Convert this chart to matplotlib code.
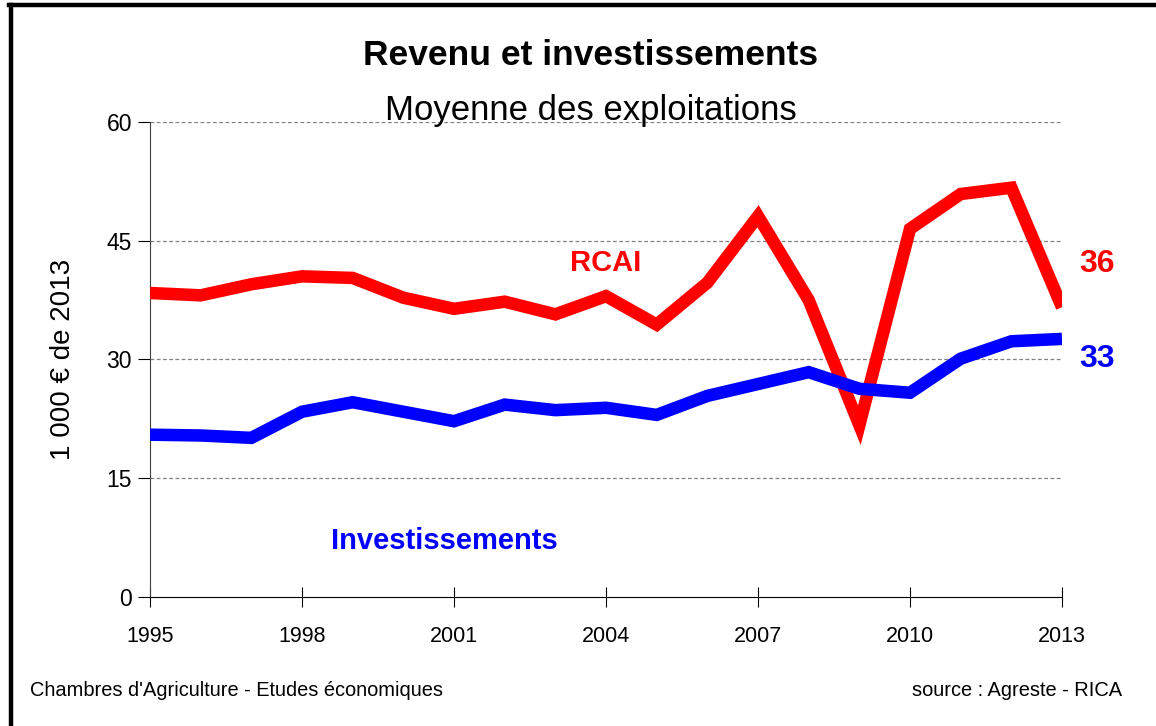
import matplotlib.pyplot as plt
from matplotlib.lines import Line2D

plt.rcParams['font.family'] = ['Liberation Sans Narrow', 'Liberation Sans', 'DejaVu Sans']

years = list(range(1995, 2014))
rcai = [38.4, 38.1, 39.5, 40.5, 40.3, 37.8, 36.4, 37.3, 35.7, 38.0,
        34.4, 39.7, 48.1, 37.5, 21.7, 46.5, 50.9, 51.7, 36.6]
invest = [20.5, 20.4, 20.1, 23.4, 24.6, 23.4, 22.2, 24.3, 23.6, 23.9,
          23.0, 25.4, 26.9, 28.4, 26.3, 25.8, 30.1, 32.3, 32.6]
yticks = [0, 15, 30, 45, 60]
xticks = [1995, 1998, 2001, 2004, 2007, 2010, 2013]

fig = plt.figure(figsize=(11.56, 7.26), dpi=100)
ax = fig.add_axes([0.1298, 0.1777, 0.7889, 0.6543])

ax.plot(years, rcai, color='#ff0000', lw=9, solid_capstyle='butt', solid_joinstyle='miter', zorder=3)
ax.plot(years, invest, color='#0000ff', lw=9, solid_capstyle='butt', solid_joinstyle='miter', zorder=3)

ax.set_xlim(1995, 2013)
ax.set_ylim(0, 60)
ax.set_xticks(xticks)
ax.set_yticks(yticks)
ax.tick_params(axis='x', direction='inout', length=14, width=0.8, labelsize=15.5, pad=14)
ax.tick_params(axis='y', direction='out', length=9, width=0.8, labelsize=16.5, pad=4, colors='black')
for y in yticks[1:]:
    ax.axhline(y, color='#808080', lw=0.9, ls=(0, (3, 2)), zorder=1)
ax.spines['top'].set_visible(False)
ax.spines['right'].set_visible(False)
ax.spines['left'].set_color('#404040')
ax.spines['bottom'].set_color('black')
ax.spines['bottom'].set_zorder(4)
ax.set_ylabel('1 000 € de 2013', fontsize=20, labelpad=22)

fig.text(0.511, 0.924, 'Revenu et investissements', ha='center', va='center',
         fontsize=25.5, fontweight='bold')
fig.text(0.511, 0.848, 'Moyenne des exploitations', ha='center', va='center', fontsize=25)

ax.text(2004.0, 42.2, 'RCAI', color='#ff0000', fontsize=21, fontweight='bold', ha='center', va='center')
ax.text(2000.8, 7.1, 'Investissements', color='#0000ff', fontsize=21, fontweight='bold', ha='center', va='center')
fig.text(0.949, 0.637, '36', color='#ff0000', fontsize=23, fontweight='bold', ha='center', va='center')
fig.text(0.949, 0.505, '33', color='#0000ff', fontsize=23, fontweight='bold', ha='center', va='center')

fig.text(0.026, 0.049, "Chambres d'Agriculture - Etudes économiques", fontsize=14.4, ha='left', va='center')
fig.text(0.971, 0.049, 'source : Agreste - RICA', fontsize=14.4, ha='right', va='center')

# cadre
fig.add_artist(Line2D([0.0091, 0.0091], [0.0, 0.993], transform=fig.transFigure, color='black', lw=3.2))
fig.add_artist(Line2D([0.0078, 1.0], [0.993, 0.993], transform=fig.transFigure, color='black', lw=3.2))

fig.savefig('out.png', dpi=100)
